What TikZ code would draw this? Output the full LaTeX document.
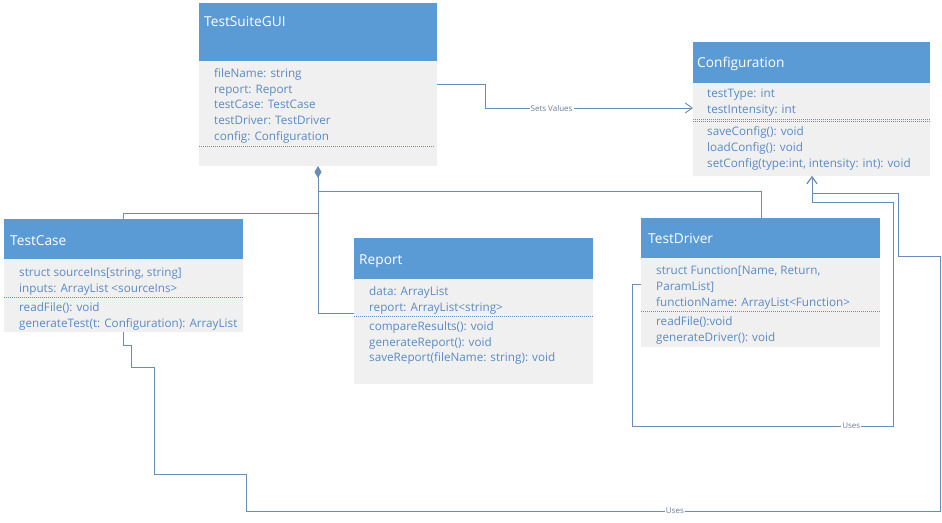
\documentclass[tikz,border=0pt]{standalone}
\usepackage{fontspec}
\setmainfont{Open Sans}
\usetikzlibrary{arrows.meta}
\definecolor{hdr}{HTML}{5B9BD5}
\definecolor{bodyfill}{HTML}{F0F0F0}
\definecolor{txt}{HTML}{5A8AC6}
\definecolor{ln}{HTML}{6A8CBB}
\definecolor{lbltxt}{HTML}{6A7F99}
\begin{document}
\begin{tikzpicture}[x=1pt,y=-1pt,
  hdrbox/.style={fill=hdr, draw=none, anchor=north west, inner sep=0pt, outer sep=0pt},
  bodybox/.style={fill=bodyfill, draw=none, anchor=north west, inner sep=0pt, outer sep=0pt},
  ttl/.style={anchor=west, inner sep=0pt, text=white, font=\fontsize{13.7}{15}\selectfont, text height=10pt, text depth=0pt},
  attr/.style={anchor=west, inner sep=0pt, text=txt, font=\fontsize{11.7}{14}\selectfont, text height=8.4pt, text depth=0pt},
  sep/.style={draw=ln, line width=0.6pt, dash pattern=on 1pt off 1pt},
  conn/.style={draw=ln, line width=0.9pt},
  opentip/.style={-{Straight Barb[length=7pt,width=10pt,line width=0.9pt]}},
  lbl/.style={fill=white, inner sep=1pt, text=lbltxt, font=\fontsize{8}{9}\selectfont}]
\useasboundingbox (0,0) rectangle (942,522);
\fill[white] (0,0) rectangle (942,522);

% TestSuiteGUI
\node[hdrbox, minimum width=238pt, minimum height=58pt] (guiH) at (199,3) {};
\node[bodybox, minimum width=238pt, minimum height=105pt] (guiB) at (199,61) {};
\node[ttl] (guiT) at (204,21) {TestSuiteGUI};
\node[attr] (gui1) at (214,73) {fileName: string};
\node[attr] (gui2) at (214,89) {report: Report};
\node[attr] (gui3) at (214,104.5) {testCase: TestCase};
\node[attr] (gui4) at (214,120) {testDriver: TestDriver};
\node[attr] (gui5) at (214,136) {config: Configuration};
\draw[sep] (guiB.west |- 0,146) -- (434,146);

% Configuration
\node[hdrbox, minimum width=237pt, minimum height=41pt] (cfgH) at (693,42) {};
\node[bodybox, minimum width=237pt, minimum height=93pt] (cfgB) at (693,83) {};
\node[ttl] (cfgT) at (697,62) {Configuration};
\node[attr] (cfg1) at (707,93) {testType: int};
\node[attr] (cfg2) at (707,109) {testIntensity: int};
\draw[sep] (cfgB.west |- 0,119) -- (cfgB.east |- 0,119);
\draw[sep] (cfgB.west |- 0,121) -- (cfgB.east |- 0,121);
\node[attr] (cfg3) at (707,131) {saveConfig(): void};
\node[attr] (cfg4) at (707,147) {loadConfig(): void};
\node[attr] (cfg5) at (707,163) {setConfig(type:int, intensity: int): void};

% TestCase
\node[hdrbox, minimum width=239pt, minimum height=40pt] (tcH) at (4,219) {};
\node[bodybox, minimum width=239pt, minimum height=73pt] (tcB) at (4,259) {};
\node[ttl] (tcT) at (10,240) {TestCase};
\node[attr] (tc1) at (19,272) {struct sourceIns[string, string]};
\node[attr] (tc2) at (19,288) {inputs: ArrayList <sourceIns>};
\draw[sep] (tcB.west |- 0,297) -- (tcB.east |- 0,297);
\node[attr] (tc3) at (19,307) {readFile(): void};
\node[attr] (tc4) at (19,323) {generateTest(t: Configuration): ArrayList};

% Report
\node[hdrbox, minimum width=239pt, minimum height=41pt] (repH) at (354,238) {};
\node[bodybox, minimum width=239pt, minimum height=105pt] (repB) at (354,279) {};
\node[ttl] (repT) at (359,259) {Report};
\node[attr] (rep1) at (369,291) {data: ArrayList};
\node[attr] (rep2) at (369,307) {report: ArrayList<string>};
\draw[sep] (repB.west |- 0,316) -- (repB.east |- 0,316);
\node[attr] (rep3) at (369,326) {compareResults(): void};
\node[attr] (rep4) at (369,342) {generateReport(): void};
\node[attr] (rep5) at (369,357) {saveReport(fileName: string): void};

% TestDriver
\node[hdrbox, minimum width=239pt, minimum height=40pt] (tdH) at (641,218) {};
\node[bodybox, minimum width=239pt, minimum height=89pt] (tdB) at (641,258) {};
\node[ttl] (tdT) at (648,238) {TestDriver};
\node[attr] (td1) at (656,270) {struct Function[Name, Return,};
\node[attr] (td2) at (656,286) {ParamList]};
\node[attr] (td3) at (656,302) {functionName: ArrayList<Function>};
\draw[sep] (tdB.west |- 0,311) -- (tdB.east |- 0,311);
\node[attr] (td4) at (656,321) {readFile():void};
\node[attr] (td5) at (656,337) {generateDriver(): void};

% Sets Values
\draw[conn, opentip] (guiB.east |- 0,84) -- (485,84) -- (485,108)
  -- node[lbl, pos=0.32] {Sets Values} (cfgB.west |- 0,108);

% composition
\coordinate (jA) at (318,191);
\coordinate (jB) at (318,213);
\draw[conn, {Diamond[length=12pt,width=7pt,fill=ln]}-] (guiB.south -| 318,0) -- (318,313) -- (repB.west |- 0,313);
\draw[conn] (jB) -- (123,213) -- (tcH.north -| 123,0);
\draw[conn] (jA) -- (761,191) -- (tdH.north -| 761,0);

% TestDriver uses Configuration
\draw[conn, opentip] (tdB.west |- 0,284) -- (632,284) -- (632,426)
  -- node[lbl, pos=0.84] {Uses} (893,426) -- (893,202) -- (812,202) -- (cfgB.south -| 812,0);

% TestCase uses Configuration
\draw[conn, opentip] (tcB.south -| 123,0) -- (123,345) -- (131,345) -- (131,367) -- (154,367)
  -- (154,474) -- (246,474) -- (246,511)
  -- node[lbl, pos=0.618] {Uses} (940,511) -- (940,256) -- (898,256) -- (898,193) -- (812,193) -- (cfgB.south -| 812,0);
\end{tikzpicture}
\end{document}
